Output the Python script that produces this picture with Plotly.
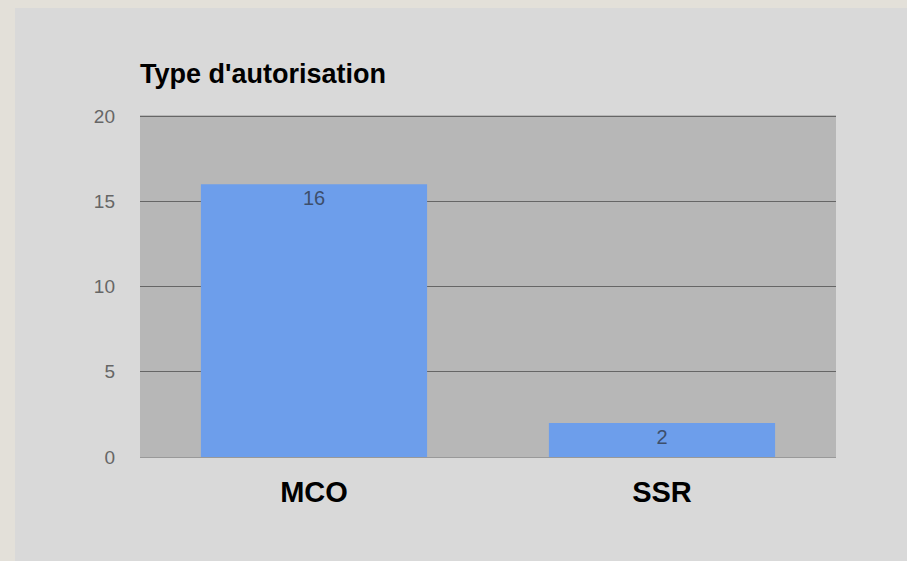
import plotly.graph_objects as go

categories = ["MCO", "SSR"]
values = [16, 2]
tick_vals = [0, 5, 10, 15, 20]
title_text = "Type d'autorisation"

W, H = 907, 561
L, R, T, B = 140, 71, 115, 104
pw, ph = W - L - R, H - T - B

def px_x(x):
    return (x - L) / pw

def px_y(y):
    return (H - B - y) / ph

fig = go.Figure(go.Bar(
    x=categories, y=values,
    marker=dict(color="#6d9eeb", line=dict(width=0)),
    width=0.65,
    text=[str(v) for v in values],
    textposition="inside",
    insidetextanchor="end",
    textangle=0,
    textfont=dict(family="Liberation Sans, Arial", size=20, color="#3d4f6b"),
    cliponaxis=False,
))

fig.update_layout(
    width=W, height=H,
    margin=dict(l=L, r=R, t=T, b=B),
    paper_bgcolor="#d9d9d9",
    plot_bgcolor="#b7b7b7",
    showlegend=False,
    font=dict(family="Liberation Sans, Arial"),
    title=dict(text="<b>" + title_text + "</b>", x=0, xref="paper", xanchor="left",
               y=1 - 74 / H, yref="container", yanchor="middle",
               font=dict(size=27, color="#000000")),
    shapes=[
        dict(type="rect", xref="paper", yref="paper", x0=px_x(0), x1=px_x(15),
             y0=px_y(H), y1=px_y(0), fillcolor="#e3e0d9", line=dict(width=0), layer="below"),
        dict(type="rect", xref="paper", yref="paper", x0=px_x(0), x1=px_x(W),
             y0=px_y(8), y1=px_y(0), fillcolor="#e3e0d9", line=dict(width=0), layer="below"),
    ],
)

fig.update_yaxes(
    range=[0, max(tick_vals) * 1.003], tickvals=tick_vals, showgrid=True, gridcolor="#666666", gridwidth=1,
    zeroline=False, showline=False, ticks="", ticklabelstandoff=24,
    tickfont=dict(size=19, color="#666666"),
)
fig.update_xaxes(
    showgrid=False, showline=True, linecolor="#999999", linewidth=1, ticks="",
    ticklabelstandoff=9,
    tickfont=dict(size=29, color="#000000"),
    tickvals=categories, ticktext=["<b>" + c + "</b>" for c in categories],
)

fig.write_html("out.html", config={"displayModeBar": False},
               post_script="document.body.style.margin='0';document.body.style.padding='0';")
